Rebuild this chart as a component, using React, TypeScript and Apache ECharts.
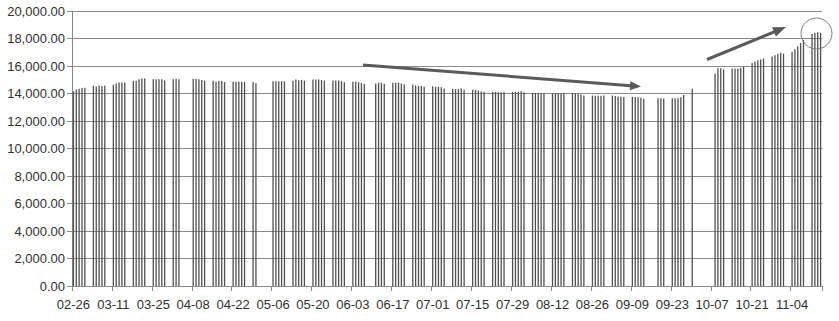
import React, { useEffect, useRef } from "react";
import * as echarts from "echarts";

// Calendar span of the date axis (one slot per calendar day)
const axisStart = "2024-02-26";
const axisDays = 263;

// Trading days shown as bars
const tradeDates: string[] = [
  "02-26", "02-27", "02-28", "02-29", "03-01",
  "03-04", "03-05", "03-06", "03-07", "03-08",
  "03-11", "03-12", "03-13", "03-14", "03-15",
  "03-18", "03-19", "03-20", "03-21", "03-22",
  "03-25", "03-26", "03-27", "03-28", "03-29",
  "04-01", "04-02", "04-03",
  "04-08", "04-09", "04-10", "04-11", "04-12",
  "04-15", "04-16", "04-17", "04-18", "04-19",
  "04-22", "04-23", "04-24", "04-25", "04-26",
  "04-29", "04-30",
  "05-06", "05-07", "05-08", "05-09", "05-10",
  "05-13", "05-14", "05-15", "05-16", "05-17",
  "05-20", "05-21", "05-22", "05-23", "05-24",
  "05-27", "05-28", "05-29", "05-30", "05-31",
  "06-03", "06-04", "06-05", "06-06", "06-07",
  "06-11", "06-12", "06-13", "06-14",
  "06-17", "06-18", "06-19", "06-20", "06-21",
  "06-24", "06-25", "06-26", "06-27", "06-28",
  "07-01", "07-02", "07-03", "07-04", "07-05",
  "07-08", "07-09", "07-10", "07-11", "07-12",
  "07-15", "07-16", "07-17", "07-18", "07-19",
  "07-22", "07-23", "07-24", "07-25", "07-26",
  "07-29", "07-30", "07-31", "08-01", "08-02",
  "08-05", "08-06", "08-07", "08-08", "08-09",
  "08-12", "08-13", "08-14", "08-15", "08-16",
  "08-19", "08-20", "08-21", "08-22", "08-23",
  "08-26", "08-27", "08-28", "08-29", "08-30",
  "09-02", "09-03", "09-04", "09-05", "09-06",
  "09-09", "09-10", "09-11", "09-12", "09-13",
  "09-18", "09-19", "09-20",
  "09-23", "09-24", "09-25", "09-26", "09-27",
  "09-30",
  "10-08", "10-09", "10-10", "10-11",
  "10-14", "10-15", "10-16", "10-17", "10-18",
  "10-21", "10-22", "10-23", "10-24", "10-25",
  "10-28", "10-29", "10-30", "10-31", "11-01",
  "11-04", "11-05", "11-06", "11-07", "11-08",
  "11-11", "11-12", "11-13", "11-14",
];

const balances: number[] = [
  14170, 14300, 14340, 14400, 14420,
  14560, 14510, 14590, 14540, 14590,
  14640, 14730, 14800, 14800, 14800,
  14930, 14930, 15030, 15100, 15100,
  15030, 15030, 15030, 15030, 14950,
  15030, 15080, 15040,
  15080, 15060, 15030, 14990, 14930,
  14920, 14860, 14910, 14910, 14840,
  14860, 14860, 14860, 14860, 14850,
  14830, 14740,
  14900, 14900, 14900, 14900, 14890,
  14930, 15010, 14960, 14980, 14940,
  15010, 15010, 15010, 14990, 14940,
  14950, 14950, 14950, 14900, 14820,
  14860, 14860, 14820, 14770, 14700,
  14720, 14780, 14780, 14710,
  14780, 14780, 14780, 14730, 14670,
  14640, 14590, 14550, 14550, 14490,
  14520, 14490, 14500, 14460, 14360,
  14340, 14320, 14320, 14360, 14270,
  14270, 14270, 14220, 14150, 14120,
  14120, 14120, 14100, 14100, 14110,
  14110, 14120, 14130, 14160, 14100,
  14050, 14030, 14020, 14000, 14010,
  14000, 14010, 14020, 14000, 14030,
  14050, 14020, 13980, 13920, 13850,
  13850, 13840, 13830, 13830, 13850,
  13850, 13820, 13780, 13760, 13750,
  13760, 13740, 13720, 13700, 13620,
  13660, 13660, 13640,
  13650, 13650, 13660, 13720, 13900,
  14340,
  15450, 15830, 15830, 15760,
  15820, 15820, 15820, 15880, 15950,
  16220, 16330, 16410, 16480, 16540,
  16700, 16780, 16900, 16960, 16900,
  17040, 17220, 17440, 17670, 17890,
  18320, 18420, 18460, 18410,
];

const yMin = 0;
const yMax = 20000;
const yStep = 2000;
const labelEvery = 14;

function buildCategories(): string[] {
  const [y, m, d] = axisStart.split("-").map(Number);
  const base = Date.UTC(y, m - 1, d);
  const out: string[] = [];
  for (let i = 0; i < axisDays; i++) {
    const dt = new Date(base + i * 86400000);
    const mm = String(dt.getUTCMonth() + 1).padStart(2, "0");
    const dd = String(dt.getUTCDate()).padStart(2, "0");
    out.push(`${mm}-${dd}`);
  }
  return out;
}

function arrow(x1: number, y1: number, x2: number, y2: number, headLen: number, headHalf: number, color: string, width: number) {
  const dx = x2 - x1;
  const dy = y2 - y1;
  const len = Math.sqrt(dx * dx + dy * dy);
  const ux = dx / len;
  const uy = dy / len;
  const bx = x2 - ux * headLen;
  const by = y2 - uy * headLen;
  const px = -uy;
  const py = ux;
  return [
    {
      type: "line",
      z: 100,
      shape: { x1, y1, x2: bx + ux * 1, y2: by + uy * 1 },
      style: { stroke: color, lineWidth: width },
    },
    {
      type: "polygon",
      z: 100,
      shape: {
        points: [
          [x2, y2],
          [bx + px * headHalf, by + py * headHalf],
          [bx - px * headHalf, by - py * headHalf],
        ],
      },
      style: { fill: color },
    },
  ];
}

export default function App() {
  const ref = useRef<HTMLDivElement>(null);

  useEffect(() => {
    if (!ref.current) return;
    const chart = echarts.init(ref.current, undefined, { renderer: "svg" });
    const categories = buildCategories();
    const lookup = new Map<string, number>();
    tradeDates.forEach((d, i) => lookup.set(d, balances[i]));
    const seriesData = categories.map((c) => (lookup.has(c) ? lookup.get(c)! : null));

    const textColor = "#303030";
    const gridColor = "#8a8a8a";
    const font = "'Liberation Sans', Arial, sans-serif";

    chart.setOption({
      animation: false,
      grid: { left: 72, right: 17, top: 11, bottom: 35, containLabel: false },
      xAxis: {
        type: "category",
        data: categories,
        boundaryGap: true,
        axisLine: { show: true, lineStyle: { color: gridColor, width: 1 } },
        axisTick: { show: true, interval: labelEvery - 1, length: 5, lineStyle: { color: gridColor } },
        axisLabel: {
          interval: labelEvery - 1,
          color: textColor,
          fontSize: 13,
          fontFamily: font,
          margin: 12,
        },
        splitLine: { show: false },
      },
      yAxis: {
        type: "value",
        min: yMin,
        max: yMax,
        interval: yStep,
        axisLine: { show: true, lineStyle: { color: gridColor, width: 1 } },
        axisTick: { show: true, length: 5, lineStyle: { color: gridColor } },
        axisLabel: {
          color: textColor,
          fontSize: 13,
          fontFamily: font,
          margin: 7,
          formatter: (v: number) =>
            v.toLocaleString("en-US", { minimumFractionDigits: 2, maximumFractionDigits: 2 }),
        },
        splitLine: { show: true, lineStyle: { color: gridColor, width: 1 } },
      },
      series: [
        {
          type: "bar",
          data: seriesData,
          barWidth: 1.3,
          itemStyle: { color: "#505050" },
          emphasis: { disabled: true },
        },
      ],
      graphic: [
        ...arrow(363, 65, 641, 86.5, 11, 4.5, "#5a5a5a", 3),
        ...arrow(707, 59.5, 786, 27, 13, 5, "#5a5a5a", 3),
        {
          type: "circle",
          z: 100,
          shape: { cx: 816.5, cy: 33.5, r: 15.5 },
          style: { fill: "none", stroke: "#7f7f7f", lineWidth: 1 },
        },
      ],
    });
    return () => chart.dispose();
  }, []);

  return (
    <div
      ref={ref}
      style={{ position: "fixed", left: 0, top: 0, width: 839, height: 321, background: "#ffffff" }}
    />
  );
}
